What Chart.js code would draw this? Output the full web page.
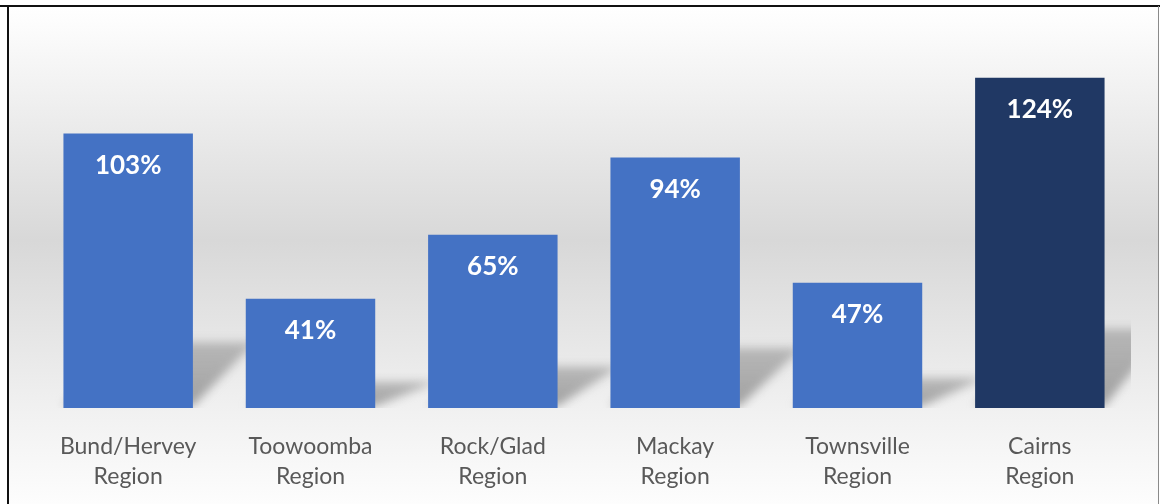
<!DOCTYPE html>
<html>
<head>
<meta charset="utf-8">
<script src="https://cdn.jsdelivr.net/npm/chart.js@4"></script>
<style>
  body { margin: 0; background: #fff; }
  #wrap { width: 1160px; height: 504px; position: relative; }
</style>
</head>
<body>
<div id="wrap"><canvas id="regionChart"></canvas></div>
<script>
const regions = [
  ["Bund/Hervey", "Region"],
  ["Toowoomba", "Region"],
  ["Rock/Glad", "Region"],
  ["Mackay", "Region"],
  ["Townsville", "Region"],
  ["Cairns", "Region"]
];
const percentValues = [103, 41, 65, 94, 47, 124];
const barColours = ["#4472C4", "#4472C4", "#4472C4", "#4472C4", "#4472C4", "#203864"];

const ctx = document.getElementById("regionChart").getContext("2d");

// background gradient + frame
const backdrop = {
  id: "backdrop",
  beforeDraw(chart) {
    const c = chart.ctx;
    const g = c.createLinearGradient(0, 7, 0, 504);
    g.addColorStop(0, "#ffffff");
    g.addColorStop(0.05, "#fbfbfb");
    g.addColorStop(0.47, "#d8d8d8");
    g.addColorStop(0.8, "#f0f0f0");
    g.addColorStop(1, "#fdfdfd");
    c.save();
    c.fillStyle = g;
    c.fillRect(8, 7, 1150, 497);
    c.strokeStyle = "#111";
    c.lineWidth = 2;
    c.beginPath();
    c.moveTo(0, 6);
    c.lineTo(1160, 6);
    c.moveTo(8, 6);
    c.lineTo(8, 504);
    c.stroke();
    c.strokeStyle = "#8a8a8a";
    c.lineWidth = 1;
    c.beginPath();
    c.moveTo(1158.5, 6);
    c.lineTo(1158.5, 504);
    c.stroke();
    c.restore();
  }
};

// soft floor shadow behind each bar
const barShadows = {
  id: "barShadows",
  beforeDatasetsDraw(chart) {
    const c = chart.ctx;
    const area = chart.chartArea;
    c.save();
    c.beginPath();
    c.rect(area.left, area.top, area.right - area.left, area.bottom - area.top);
    c.clip();
    c.filter = "blur(5px)";
    chart.getDatasetMeta(0).data.forEach(bar => {
      const h = bar.base - bar.y;
      const sh = h * 0.24;
      const dx = 62;
      const left = bar.x - bar.width / 2;
      const right = bar.x + bar.width / 2;
      const g = c.createLinearGradient(0, bar.base - sh, 0, bar.base);
      g.addColorStop(0, "rgba(150,150,150,0.6)");
      g.addColorStop(1, "rgba(150,150,150,0.9)");
      c.fillStyle = g;
      c.beginPath();
      c.moveTo(left, bar.base - 2);
      c.lineTo(right, bar.base - 2);
      c.lineTo(right + dx, bar.base - sh);
      c.lineTo(left + dx, bar.base - sh);
      c.closePath();
      c.fill();
    });
    c.restore();
  }
};

const valueLabels = {
  id: "valueLabels",
  afterDatasetsDraw(chart) {
    const c = chart.ctx;
    c.save();
    c.fillStyle = "#ffffff";
    c.font = "bold 26px Lato";
    c.textAlign = "center";
    c.textBaseline = "middle";
    chart.getDatasetMeta(0).data.forEach((bar, i) => {
      c.fillText(percentValues[i] + "%", bar.x, bar.y + 32);
    });
    c.restore();
  }
};

new Chart(ctx, {
  type: "bar",
  data: {
    labels: regions,
    datasets: [
      {
        data: percentValues,
        backgroundColor: barColours,
        borderWidth: 0,
        barPercentage: 0.71,
        categoryPercentage: 1
      }
    ]
  },
  options: {
    responsive: true,
    maintainAspectRatio: false,
    animation: false,
    layout: {
      padding: { left: 37, right: 29, top: 35, bottom: 0 }
    },
    plugins: {
      legend: { display: false },
      tooltip: { enabled: false }
    },
    scales: {
      x: {
        border: { display: false },
        grid: { display: false, drawTicks: false },
        ticks: {
          color: "#595959",
          font: { family: "Lato", size: 23, lineHeight: 1.3 },
          padding: 24,
          maxRotation: 0,
          autoSkip: false
        },
        afterFit(scale) {
          scale.height = 96;
        }
      },
      y: {
        display: false,
        min: 0,
        max: 140
      }
    }
  },
  plugins: [backdrop, barShadows, valueLabels]
});
</script>
</body>
</html>
